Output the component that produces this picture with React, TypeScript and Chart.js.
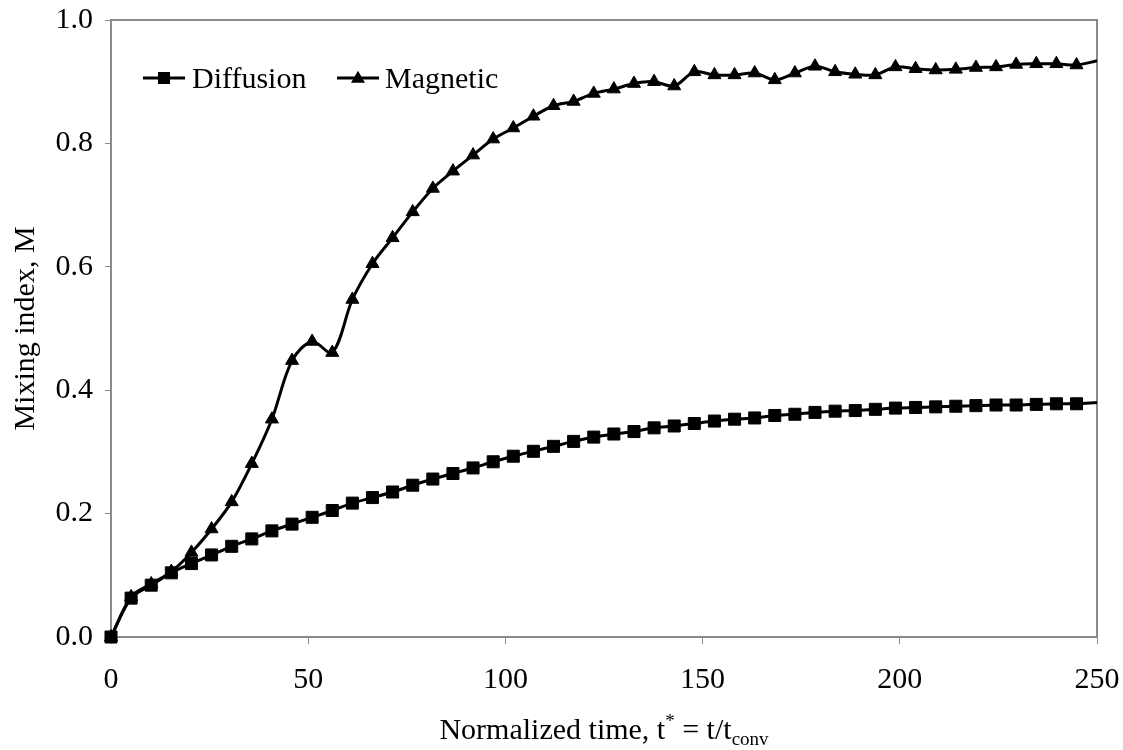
import React, { useEffect, useRef } from "react";
import { Chart, registerables } from "chart.js";

Chart.register(...registerables);

// Normalized time t* (x values); the final entry carries the line to the axis end without a marker
const timeValues = [
  0, 5.1, 10.2, 15.3, 20.4, 25.5, 30.6, 35.7, 40.8, 45.9,
  51, 56.1, 61.2, 66.3, 71.4, 76.5, 81.6, 86.7, 91.8, 96.9,
  102, 107.1, 112.2, 117.3, 122.4, 127.5, 132.6, 137.7, 142.8, 147.9,
  153, 158.1, 163.2, 168.3, 173.4, 178.5, 183.6, 188.7, 193.8, 198.9,
  204, 209.1, 214.2, 219.3, 224.4, 229.5, 234.6, 239.7, 244.8, 250,
];

const diffusionValues = [
  0, 0.063, 0.084, 0.104, 0.119, 0.133, 0.147, 0.159, 0.172, 0.183,
  0.194, 0.205, 0.217, 0.226, 0.235, 0.246, 0.256, 0.265, 0.274, 0.284,
  0.293, 0.301, 0.309, 0.317, 0.324, 0.329, 0.333, 0.339, 0.342, 0.346,
  0.35, 0.353, 0.355, 0.359, 0.361, 0.364, 0.366, 0.367, 0.369, 0.371,
  0.372, 0.373, 0.374, 0.375, 0.376, 0.376, 0.377, 0.378, 0.378, 0.38,
];

const magneticValues = [
  0, 0.065, 0.086, 0.106, 0.137, 0.175, 0.219, 0.281, 0.353, 0.448,
  0.479, 0.461, 0.547, 0.605, 0.647, 0.689, 0.727, 0.755, 0.781, 0.807,
  0.825, 0.844, 0.861, 0.868, 0.881, 0.888, 0.897, 0.9, 0.893, 0.916,
  0.911, 0.911, 0.914, 0.903, 0.914, 0.925, 0.916, 0.912, 0.911, 0.924,
  0.921, 0.919, 0.92, 0.923, 0.924, 0.928, 0.929, 0.929, 0.927, 0.934,
];

const seriesNames = ["Diffusion", "Magnetic"];
const xTicks = [0, 50, 100, 150, 200, 250];
const yTicks = [0, 0.2, 0.4, 0.6, 0.8, 1.0];
const yTitle = "Mixing index, M";

const FONT = "'Liberation Serif', 'Times New Roman', serif";
const GRAY = "#8a8a8a";

const toPoints = (ys: number[]) => ys.map((y, i) => ({ x: timeValues[i], y }));

function drawSquare(ctx: CanvasRenderingContext2D, x: number, y: number, s: number) {
  ctx.fillRect(x - s / 2, y - s / 2, s, s);
}
function drawTriangle(ctx: CanvasRenderingContext2D, x: number, y: number, w: number) {
  const h = w * 0.866;
  ctx.beginPath();
  ctx.moveTo(x, y - h * 0.6);
  ctx.lineTo(x + w / 2, y + h * 0.4);
  ctx.lineTo(x - w / 2, y + h * 0.4);
  ctx.closePath();
  ctx.fill();
}

const decorPlugin = {
  id: "decor",
  beforeDatasetsDraw(chart: any) {
    const { ctx, chartArea: a } = chart;
    ctx.save();
    ctx.strokeStyle = GRAY;
    ctx.lineWidth = 2;
    ctx.strokeRect(a.left, a.top, a.right - a.left, a.bottom - a.top);
    ctx.restore();
  },
  afterDraw(chart: any) {
    const { ctx, chartArea: a } = chart;
    ctx.save();
    ctx.fillStyle = "#000";
    ctx.strokeStyle = "#000";
    // Legend
    const ly = 78;
    ctx.lineWidth = 3;
    ctx.beginPath();
    ctx.moveTo(143, ly);
    ctx.lineTo(185, ly);
    ctx.stroke();
    drawSquare(ctx, 164, ly, 12);
    ctx.beginPath();
    ctx.moveTo(337, ly);
    ctx.lineTo(379, ly);
    ctx.stroke();
    drawTriangle(ctx, 358, ly, 14);
    ctx.font = `30px ${FONT}`;
    ctx.textAlign = "left";
    ctx.textBaseline = "alphabetic";
    ctx.fillText(seriesNames[0], 192, ly + 10);
    ctx.fillText(seriesNames[1], 385, ly + 10);

    // X axis title with superscript and subscript
    const parts = [
      { t: "Normalized time, t", size: 30, dy: 0 },
      { t: "*", size: 19, dy: -12 },
      { t: " = t/t", size: 30, dy: 0 },
      { t: "conv", size: 19, dy: 6 },
    ];
    let total = 0;
    for (const p of parts) {
      ctx.font = `${p.size}px ${FONT}`;
      total += ctx.measureText(p.t).width;
    }
    let x = (a.left + a.right) / 2 - total / 2;
    const base = 739;
    for (const p of parts) {
      ctx.font = `${p.size}px ${FONT}`;
      ctx.fillText(p.t, x, base + p.dy);
      x += ctx.measureText(p.t).width;
    }

    // Y axis title
    ctx.translate(34, (a.top + a.bottom) / 2);
    ctx.rotate(-Math.PI / 2);
    ctx.font = `30px ${FONT}`;
    ctx.textAlign = "center";
    ctx.fillText(yTitle, 0, 0);
    ctx.restore();
  },
};

export default function App() {
  const canvasRef = useRef<HTMLCanvasElement | null>(null);

  useEffect(() => {
    if (!canvasRef.current) return;
    Chart.defaults.font.family = FONT;
    const lastIdx = timeValues.length - 1;
    const chart = new Chart(canvasRef.current, {
      type: "line",
      data: {
        datasets: [
          {
            label: seriesNames[0],
            data: toPoints(diffusionValues),
            borderColor: "#000",
            backgroundColor: "#000",
            borderWidth: 3,
            tension: 0.33,
            pointStyle: "rect",
            pointRadius: (c: any) => (c.dataIndex === lastIdx ? 0 : 8.5),
            pointBorderWidth: 1,
            pointBackgroundColor: "#000",
            pointBorderColor: "#000",
            clip: false as any,
          },
          {
            label: seriesNames[1],
            data: toPoints(magneticValues),
            borderColor: "#000",
            backgroundColor: "#000",
            borderWidth: 3,
            tension: 0.33,
            pointStyle: "triangle",
            pointRadius: (c: any) => (c.dataIndex === lastIdx ? 0 : 7.5),
            pointBorderWidth: 1,
            pointBackgroundColor: "#000",
            pointBorderColor: "#000",
            clip: false as any,
          },
        ],
      },
      options: {
        responsive: false,
        animation: false,
        layout: { padding: { top: 20, right: 26, left: 0, bottom: 0 } },
        plugins: {
          legend: { display: false },
          tooltip: { enabled: false },
          title: { display: false },
        },
        scales: {
          x: {
            type: "linear",
            min: 0,
            max: 250,
            afterBuildTicks: (s: any) => {
              s.ticks = xTicks.map((v) => ({ value: v }));
            },
            afterFit: (s: any) => {
              s.height = 113;
              s.paddingLeft = 0;
              s.paddingRight = 0;
            },
            ticks: {
              color: "#000",
              font: { size: 30, family: FONT },
              padding: 18,
              maxRotation: 0,
              callback: (v: any) => String(v),
            },
            grid: {
              display: true,
              drawOnChartArea: false,
              drawTicks: true,
              tickLength: 7,
              color: GRAY,
              lineWidth: 1,
            },
            border: { display: false },
            title: { display: false },
          },
          y: {
            type: "linear",
            min: 0,
            max: 1,
            afterBuildTicks: (s: any) => {
              s.ticks = yTicks.map((v) => ({ value: v }));
            },
            afterFit: (s: any) => {
              s.width = 111;
              s.paddingTop = 0;
              s.paddingBottom = 0;
            },
            ticks: {
              color: "#000",
              font: { size: 30, family: FONT },
              padding: 12,
              callback: (v: any) => Number(v).toFixed(1),
            },
            grid: {
              display: true,
              drawOnChartArea: false,
              drawTicks: true,
              tickLength: 6,
              color: GRAY,
              lineWidth: 1,
            },
            border: { display: false },
            title: { display: false },
          },
        },
      },
      plugins: [decorPlugin],
    });
    return () => chart.destroy();
  }, []);

  return (
    <div style={{ position: "fixed", left: 0, top: 0, width: 1123, height: 750, background: "#fff" }}>
      <canvas ref={canvasRef} width={1123} height={750} style={{ width: 1123, height: 750 }} />
    </div>
  );
}
